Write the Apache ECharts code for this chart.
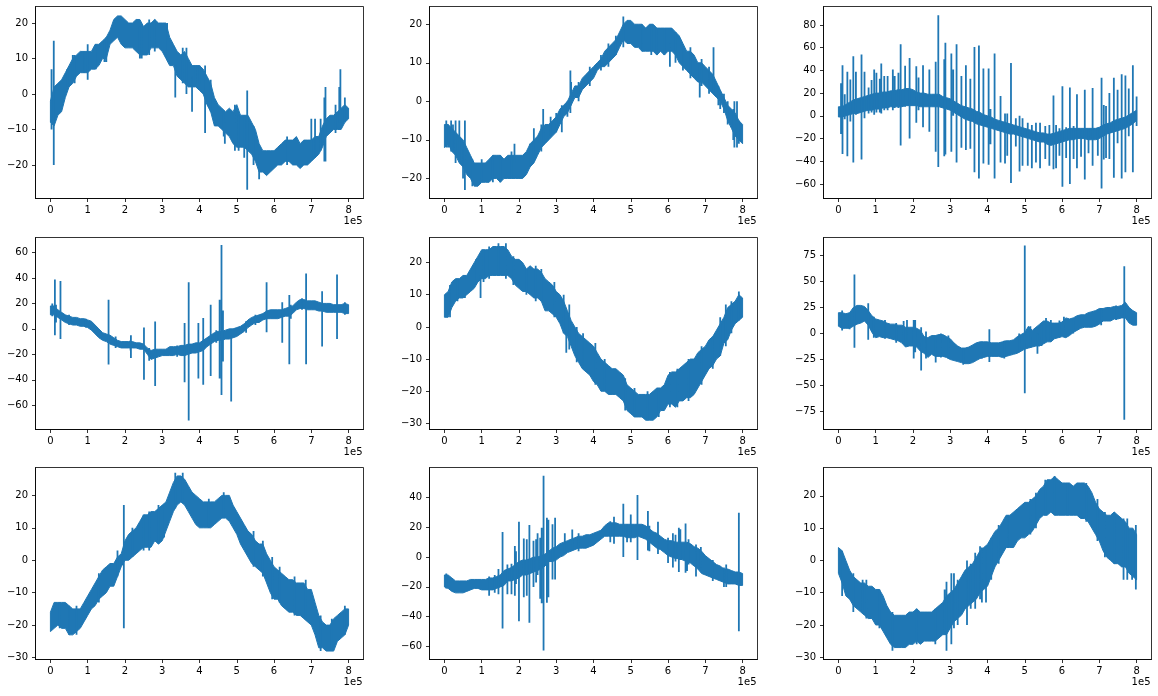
<!DOCTYPE html>
<html><head><meta charset="utf-8">
<style>html,body{margin:0;padding:0;background:#fff}#c{width:1158px;height:696px}</style>
<script src="https://cdn.jsdelivr.net/npm/echarts@6/dist/echarts.min.js"></script>
</head><body><div id="c"></div>
<script>
const sampleX=[0,.1,.2,.3,.4,.5,.6,.7,.8,.9,1,1.1,1.2,1.3,1.4,1.5,1.6,1.7,1.8,1.9,2,2.1,2.2,2.3,2.4,2.5,2.6,2.7,2.8,2.9,3,3.1,3.2,3.3,3.4,3.5,3.6,3.7,3.8,3.9,4,4.1,4.2,4.3,4.4,4.5,4.6,4.7,4.8,4.9,5,5.1,5.2,5.3,5.4,5.5,5.6,5.7,5.8,5.9,6,6.1,6.2,6.3,6.4,6.5,6.6,6.7,6.8,6.9,7,7.1,7.2,7.3,7.4,7.5,7.6,7.7,7.8,7.9,8];
const xTicks=[0,1,2,3,4,5,6,7,8];

const p1Hi=[-2,2,3,4,6,8,10,11,12,12,12,12,14,14,15,16,18,21,22,22,21,20,20,21,21,19,20,20,21,20,20,20,16,14,12,11,12,10,8,8,8,7,5,3,-1,-3,-4,-5,-4,-5,-3,-6,-6,-6,-8,-10,-14,-16,-16,-16,-16,-15,-14,-13,-13,-13,-12,-14,-13,-13,-13,-12,-12,-9,-7,-6,-6,-5,-4,-3,-4];
const p1Lo=[-8,-9,-6,-5,-1,2,3,5,6,6,6,7,7,8,10,10,14,15,16,14,13,13,13,12,11,11,11,13,13,13,12,10,8,8,5,4,3,2,2,2,1,0,-3,-5,-9,-9,-10,-11,-12,-14,-15,-15,-15,-16,-17,-19,-22,-22,-23,-22,-21,-20,-20,-19,-19,-20,-20,-21,-20,-20,-19,-18,-17,-15,-12,-11,-10,-10,-10,-8,-7];
const p1Spikes=[[.03,-10,7],[.09,-20,15],[1,4,14],[3.35,-1,8],[3.65,0,13],[3.8,-5,5],[4.15,-11,0],[4.68,-14,-8],[5.28,-27,1],[5.6,-24,-17],[7.35,-19,-1],[7.38,-19,2],[7.75,-8,2],[7.78,-8,7],[7,-18,-7],[4,3,8],[.45,2,7],[.6,5,11],[.65,3,11],[.9,6,12],[1.22,7,14],[1.45,9,15],[1.5,9,16],[2.4,10,19],[2.45,10,19],[2.65,11,21],[2.8,12,21],[3.13,10,20],[3.55,3,13],[3.9,3,8],[4.15,-1,8],[4.3,-5,4],[4.65,-12,-5],[4.95,-16,-3],[5.05,-16,-6],[5.2,-18,-6],[5.45,-20,-9],[6.35,-20,-12],[7.1,-18,-7],[7.25,-16,-7],[7.65,-11,-3],[7.9,-8,-1]];
const p1Ticks=[-20,-10,0,10,20];

const p2Hi=[-6,-6,-7,-8,-9,-10,-12,-14,-16,-16,-16,-16,-15,-14,-14,-14,-15,-14,-14,-14,-14,-14,-13,-11,-10,-9,-7,-6,-6,-5,-4,-2,-1,0,2,4,4,6,7,8,9,10,11,13,14,15,16,18,20,21,21,20,20,20,19,20,20,19,19,19,19,19,18,17,15,13,13,12,10,10,9,8,7,5,3,1,-1,-2,-3,-5,-6];
const p2Lo=[-12,-11,-13,-14,-16,-17,-19,-20,-22,-22,-21,-21,-21,-20,-20,-21,-20,-20,-20,-20,-20,-20,-19,-17,-16,-14,-12,-11,-10,-9,-8,-6,-4,-3,-1,1,1,3,4,5,6,8,9,9,10,11,12,14,16,15,15,14,14,13,13,13,13,12,13,12,13,13,12,10,9,8,7,6,5,5,4,3,2,1,0,-2,-5,-7,-9,-10,-11];
const p2Spikes=[[.05,-12,-5],[.18,-13,-5],[.23,-13,-6],[.3,-16,-5],[.4,-15,-5],[.55,-23,-5],[.5,-20,-12],[1.88,-16,-11],[2.4,-14,-7],[2.65,-10,-2],[2.85,-9,-4],[3.15,-8,-1],[3.38,-3,8],[3.4,-1,5],[4.8,14,22],[6.05,9,15],[6.4,8,14],[6.85,1,9],[7.22,2,14],[7.4,-2,2],[7.5,-3,2],[7.75,-10,-2],[7.78,-12,0],[7.85,-12,0],[7.9,-11,-5],[.1,-12,-6],[.75,-22,-15],[1,-21,-15],[1.3,-21,-14],[1.5,-21,-14],[1.8,-20,-13],[2.3,-17,-11],[2.6,-13,-6],[3,-8,-3],[3.3,-4,0],[3.6,0,5],[3.9,4,9],[4.2,8,12],[4.4,9,15],[4.6,12,17],[5.3,13,20],[5.55,12,20],[5.7,12,19],[5.9,12,19],[6.2,10,18],[6.6,6,14],[6.9,4,11],[7.1,2,9],[7.35,-1,4],[7.6,-6,0]];
const p2Ticks=[-20,-10,0,10,20];

const p3Hi=[8,8,10,12,14,15,16,17,18,19,20,20,21,21,22,22,23,23,24,24,23,21,20,20,19,19,19,19,17,16,15,13,11,9,8,7,6,4,3,1,0,-1,-3,-4,-5,-6,-7,-8,-9,-10,-11,-12,-13,-14,-15,-15,-16,-16,-15,-14,-13,-12,-11,-11,-11,-11,-11,-11,-11,-11,-10,-8,-7,-6,-4,-3,-2,-1,1,3,5];
const p3Lo=[-1,-1,0,1,2,2,3,4,5,5,6,6,7,7,8,8,8,8,9,9,9,9,8,8,8,8,8,8,7,6,5,3,1,-1,-3,-4,-5,-7,-8,-9,-10,-11,-12,-13,-14,-15,-16,-16,-17,-18,-19,-20,-21,-22,-23,-23,-25,-26,-25,-24,-23,-22,-21,-21,-20,-20,-20,-21,-21,-21,-20,-18,-16,-15,-14,-13,-12,-11,-9,-7,-4];
const p3Spikes=[[.07,-16,28.6],[.11,-33.5,44.6],[.17,-3,19],[.24,-35.6,38.8],[.32,-5,32],[.4,-41,52.5],[.47,1,38.8],[.62,-38.5,54],[.7,-2,38.8],[.81,2,25],[.89,3,31.5],[.96,1,40.8],[1.02,3,38],[1.11,3,32.6],[1.15,2,46],[1.23,5,35],[1.32,5,35],[1.46,5,40.8],[1.51,7,35],[1.61,7,38],[1.67,-26,63],[1.79,8,44],[1.91,-20,51],[2.09,-6,43.7],[2.15,5,33.8],[2.27,-10,44.6],[2.44,-14,40.8],[2.61,-31.5,47.5],[2.68,-45,88.6],[2.84,-35.6,49.8],[2.87,-34,64.4],[3.03,-31.5,54.8],[3.08,0,40.8],[3.17,-41,63],[3.3,-28,35],[3.42,-30,44.6],[3.54,-29,32.6],[3.65,-49.6,60.6],[3.77,-55,62],[3.89,-42,41.7],[4.03,-43,41.7],[4.08,-25,6],[4.19,-55,54.8],[4.35,-41,17.5],[4.47,-42,2],[4.53,-35,2],[4.63,-59,46.6],[4.76,-27,-2],[4.86,-49,0],[4.94,-44,-2],[5.08,-44,-6],[5.19,-46,-8],[5.3,-41,-6],[5.41,-46,-6],[5.55,-38,-9],[5.66,-44,-8],[5.77,-47,18],[5.84,-46,-8],[5.93,-35,-11],[6.01,-62.4,26],[6.11,-37,-10],[6.21,-60,25],[6.31,-38,-9],[6.4,-46,19],[6.51,-36,-12],[6.61,-56,23],[6.71,-33,-12],[6.82,-44,24.5],[6.96,-35,-11],[7.06,-64,33.5],[7.12,-38.5,9.6],[7.18,-37,8.7],[7.27,-38,20],[7.39,-54.5,33.5],[7.49,-24,23],[7.6,-55,36.7],[7.7,-49.6,35.6],[7.79,-18,24],[7.9,-49.6,44.6],[8,-9,17]];
const p3Ticks=[-60,-40,-20,0,20,40,60,80];

const p4Hi=[18,18,15,13,11,10,9,9,8,8,7,6,3,0,-3,-4,-5,-7,-9,-10,-10,-10,-10,-11,-11,-12,-15,-17,-16,-16,-16,-16,-14,-14,-14,-13,-13,-12,-12,-11,-11,-9,-7,-5,-3,-2,-2,-1,0,0,1,2,4,7,9,10,11,12,14,15,15,15,15,16,17,18,21,23,23,22,22,22,21,20,20,20,19,19,19,20,19];
const p4Lo=[11,11,9,7,5,4,3,3,2,2,1,-1,-4,-7,-9,-10,-12,-13,-14,-15,-15,-15,-15,-15,-16,-16,-20,-24,-23,-22,-21,-21,-21,-21,-20,-21,-21,-20,-19,-19,-18,-17,-14,-12,-10,-9,-9,-8,-8,-7,-6,-4,-2,1,3,5,5,7,8,8,8,8,9,10,10,12,15,16,16,15,15,15,14,14,13,13,13,13,13,12,12];
const p4Spikes=[[.12,-5,38.8],[.27,-8,37.7],[1.56,-28,22.8],[2.16,-23,-5],[2.51,-40,1],[2.81,-45,5.8],[3.6,-42,4.7],[3.71,-72,36.7],[3.97,-39,4.7],[4.1,-44,8.6],[4.3,-37,18.9],[4.54,-39,22.8],[4.59,-52,66],[4.63,-25.7,14.4],[4.85,-57,-5],[5.8,-2.6,36.7],[6.22,-11,21],[6.41,-27.8,26.7],[6.86,-27.8,43.5],[7.29,-13.9,29.6],[7.69,-8,42.7],[.05,10,20],[.15,5,19],[.5,3,11],[.95,1,8],[1.75,-15,-6],[2.15,-17,-9],[2.65,-25,-15],[3.4,-22,-13],[4.45,-11,-1],[5.25,-3,6],[5.5,3,11],[6.45,8,19],[6.75,15,24],[7.9,11,21]];
const p4Ticks=[-60,-40,-20,0,20,40,60];

const p5Hi=[10,11,14,15,15,16,16,18,20,22,24,24,24,25,25,25,25,24,22,21,21,20,18,19,18,18,17,15,14,13,11,10,8,5,2,0,-2,-3,-4,-5,-6,-8,-10,-11,-12,-13,-13,-14,-15,-18,-19,-20,-21,-21,-21,-21,-20,-19,-19,-18,-15,-14,-14,-13,-12,-11,-10,-10,-8,-7,-6,-4,-3,-1,1,3,6,7,8,10,9];
const p5Lo=[3,3,6,8,9,9,10,11,12,14,15,15,16,16,16,16,16,16,15,13,12,11,11,10,9,9,8,5,5,4,3,1,-2,-3,-6,-9,-11,-13,-14,-15,-17,-18,-20,-20,-21,-21,-21,-22,-23,-26,-27,-28,-28,-28,-29,-29,-29,-28,-26,-26,-24,-24,-25,-23,-23,-22,-22,-21,-19,-17,-15,-13,-12,-10,-9,-5,-4,-1,1,2,3];
const p5Spikes=[[.97,9,16],[3.27,-8,-1],[.15,3,13],[.35,8,15],[.55,9,16],[.85,13,21],[1.05,14,24],[1.2,15,25],[1.45,16,26],[1.65,15,26],[1.85,13,22],[2.2,10,18],[2.45,8,19],[2.6,8,18],[2.95,3,14],[3.2,-2,10],[3.35,-7,7],[3.55,-11,0],[3.72,-13,-2],[4.05,-18,-5],[4.3,-20,-10],[4.85,-26,-16],[5.1,-28,-19],[5.45,-29,-20],[5.75,-28,-19],[6.05,-25,-14],[6.25,-25,-13],[6.55,-23,-10],[6.9,-18,-6],[7.2,-13,-3],[7.4,-9,3],[7.55,-6,7],[7.7,-2,8],[7.9,2,11]];
const p5Ticks=[-30,-20,-10,0,10,20];

const p6Hi=[20,20,19,20,25,27,27,26,22,17,14,13,12,10,9,9,8,8,6,6,6,5,3,-3,-4,-2,-2,-1,-1,-3,-5,-9,-12,-14,-14,-13,-11,-9,-8,-8,-8,-9,-9,-9,-8,-7,-7,-6,-3,-1,1,7,3,6,9,12,12,10,10,10,11,15,14,15,17,18,18,20,21,22,24,24,25,25,26,26,27,30,25,22,20];
const p6Lo=[7,5,5,5,7,9,10,12,8,1,-4,-3,-4,-4,-5,-6,-7,-9,-13,-12,-12,-13,-17,-19,-23,-20,-22,-22,-22,-23,-25,-26,-27,-28,-29,-29,-28,-26,-24,-23,-22,-22,-22,-22,-23,-22,-21,-20,-19,-17,-15,-14,-13,-12,-12,-10,-8,-8,-5,-4,-3,-4,-2,1,3,5,6,6,6,7,9,12,12,12,14,14,15,15,10,8,8];
const p6Spikes=[[.43,-13.8,56.7],[.8,-6,29],[1.84,-12,13],[2.02,-24,13],[2.06,-18,13],[2.22,-35.6,6],[2.61,-28,-2],[4.05,-27.5,4],[5,-57.4,84.6],[7.67,-83,64.7],[5.34,-19.5,0],[5.57,-8,15],[5.7,-8,13],[5.93,-4,12.5],[.1,3,22],[.3,4,20],[.95,-4,16],[1.25,-5,13],[1.55,-9,10],[1.75,-10,12],[2.35,-24,2],[2.75,-23,0],[2.95,-24,-2],[3.35,-30,-14],[3.85,-24,-8],[4.45,-24,-7],[4.85,-18,0],[5.15,-14,7],[5.45,-12,8],[6.05,-3,16],[6.3,0,15],[7.05,8,24],[7.45,13,27]];
const p6Ticks=[-75,-50,-25,0,25,50,75];

const p7Hi=[-16,-13,-13,-13,-13,-14,-15,-15,-15,-13,-11,-9,-7,-5,-3,-2,-1,-1,1,2,6,8,9,10,12,14,14,15,15,16,17,18,21,24,26,26,25,23,21,20,19,18,18,18,18,19,20,20,20,17,15,13,11,9,8,6,5,5,2,0,-2,-3,-4,-5,-6,-6,-7,-7,-7,-9,-9,-13,-17,-19,-20,-20,-18,-17,-16,-15,-15];
const p7Lo=[-22,-21,-20,-21,-21,-23,-23,-22,-21,-19,-17,-15,-14,-12,-11,-10,-8,-8,-5,-2,0,0,1,2,3,4,4,4,6,5,6,9,12,15,17,18,17,15,13,11,10,10,10,10,11,12,13,13,12,10,8,5,3,1,-1,-2,-3,-4,-7,-10,-12,-12,-14,-15,-16,-16,-17,-17,-18,-19,-20,-23,-27,-27,-28,-28,-28,-25,-24,-23,-20];
const p7Spikes=[[1.97,-21,17],[.25,-21,-13],[.5,-23,-14],[.7,-23,-14],[1.3,-13,-4],[1.8,-5,3],[2.2,1,10],[2.5,3,14],[2.65,3,15],[2.9,5,17],[3.05,7,17],[3.35,16,27],[3.55,18,27],[4.25,10,19],[4.65,13,21],[5.45,-2,9],[5.7,-5,6],[5.95,-12,1],[6.15,-13,-2],[6.55,-17,-5],[6.85,-18,-6],[7.25,-28,-17],[7.55,-28,-18],[7.9,-23,-14]];
const p7Ticks=[-30,-20,-10,0,10,20];

const p8Hi=[-12,-12,-14,-16,-16,-16,-16,-15,-15,-15,-15,-15,-14,-14,-13,-12,-9,-8,-7,-5,-3,-2,-2,-1,0,0,1,2,4,6,7,9,10,11,12,13,14,14,15,15,16,17,18,21,23,23,23,22,22,22,22,22,22,22,21,19,17,16,14,12,11,11,10,10,10,10,9,7,6,4,1,-1,-3,-5,-6,-8,-8,-9,-10,-10,-11];
const p8Lo=[-20,-21,-23,-24,-24,-24,-23,-22,-21,-21,-22,-22,-22,-22,-21,-20,-19,-16,-16,-15,-14,-12,-12,-11,-10,-9,-8,-6,-3,-3,-2,0,1,3,4,5,6,6,6,7,8,10,12,14,14,14,14,14,14,13,13,13,14,13,12,10,8,6,5,3,1,0,-1,-1,-2,-3,-4,-6,-8,-11,-12,-13,-14,-15,-16,-17,-18,-18,-18,-19,-19];
const p8Spikes=[[1.56,-47.9,16.8],[1.45,-25,-8],[1.69,-25,-5],[1.8,-25,-4.5],[1.89,-26,7.4],[1.92,-18,4],[2,-43,23.7],[2.13,-27,12.5],[2.21,-26,12],[2.28,-44,21.5],[2.39,-20,11],[2.46,-17,12],[2.5,-12,16],[2.57,-28,13],[2.61,-31,19.7],[2.66,-62.6,54.6],[2.75,-30.6,26.4],[2.79,-27,25],[2.9,-15,22],[2.97,-15,26.4],[3.23,3,16],[3.43,5,18.5],[4.55,9,27],[4.8,0,35.8],[5,10,28.6],[5.18,-2,41.6],[5.46,4.5,31],[5.73,2,23.7],[6.13,-7,16],[6.29,-10,19.7],[6.33,-2,18.6],[6.47,-10.5,22.6],[6.51,-9.4,5],[6.75,-13,8.5],[6.88,-7,6.7],[7.9,-49.7,29.8],[7.56,-20,-5],[.05,-21,-11],[1.2,-26,-13],[1.35,-24,-12],[3.6,4,16],[4.45,10,24],[4.9,10,22],[5.5,4,21],[6,-4,13],[6.2,-3,15],[6.55,-5,12],[7.2,-16,-2],[7.5,-20,-7]];
const p8Ticks=[-60,-40,-20,0,20,40];

const p9Hi=[4,3,0,-3,-5,-6,-7,-7,-8,-8,-9,-9,-11,-14,-16,-17,-17,-17,-17,-16,-16,-15,-16,-16,-16,-16,-15,-14,-13,-11,-10,-9,-7,-5,-3,-2,-1,1,3,4,5,7,9,10,12,14,14,15,16,17,18,18,19,20,22,23,25,25,26,25,24,24,24,23,24,24,24,23,21,18,16,15,14,14,15,14,13,12,10,10,8];
const p9Lo=[-4,-7,-11,-12,-14,-15,-16,-17,-18,-18,-20,-20,-22,-24,-26,-27,-27,-27,-27,-26,-26,-25,-26,-25,-25,-25,-25,-24,-23,-23,-21,-19,-18,-17,-15,-14,-13,-12,-10,-9,-8,-5,-2,0,2,4,4,4,6,7,7,8,9,11,13,14,14,15,14,14,14,14,14,14,14,13,13,12,10,8,6,3,1,0,-1,-1,-2,-2,-4,-5,-6];
const p9Spikes=[[2.9,-28,-6.6],[3.03,-26,-4],[3.1,-21,-4],[3.45,-20,0],[3.67,-15,2.4],[3.8,-12,4.4],[3.96,-13,4],[7.88,-6,6],[7.98,-9,11],[.1,-11,3],[.4,-16,-4],[.65,-16,-6],[.75,-18,-6],[1.1,-21,-9],[1.45,-28,-16],[2.1,-26,-15],[2.6,-26,-15],[2.85,-22,-9],[3.2,-20,-6],[3.55,-15,-1],[3.85,-13,4],[4.1,-6,7],[4.3,-1,11],[4.55,4,14],[5.15,8,19],[5.3,10,21],[5.55,14,25],[5.8,14,26.2],[6.15,14,24],[6.65,12,24],[6.95,6,19],[7.15,1,15],[7.4,-1,15],[7.65,-6,13],[7.75,-6,13]];
const p9Ticks=[-30,-20,-10,0,10,20];

const panels=[
 {hi:p1Hi,lo:p1Lo,spikes:p1Spikes,ticks:p1Ticks,yr:[-29.46,24.66]},
 {hi:p2Hi,lo:p2Lo,spikes:p2Spikes,ticks:p2Ticks,yr:[-25.2,24.6]},
 {hi:p3Hi,lo:p3Lo,spikes:p3Spikes,ticks:p3Ticks,yr:[-72.7,96.2]},
 {hi:p4Hi,lo:p4Lo,spikes:p4Spikes,ticks:p4Ticks,yr:[-79.1,71.8]},
 {hi:p5Hi,lo:p5Lo,spikes:p5Spikes,ticks:p5Ticks,yr:[-31.9,27.8]},
 {hi:p6Hi,lo:p6Lo,spikes:p6Spikes,ticks:p6Ticks,yr:[-92.3,92.3]},
 {hi:p7Hi,lo:p7Lo,spikes:p7Spikes,ticks:p7Ticks,yr:[-30.6,28.6]},
 {hi:p8Hi,lo:p8Lo,spikes:p8Spikes,ticks:p8Ticks,yr:[-68.7,60.1]},
 {hi:p9Hi,lo:p9Lo,spikes:p9Spikes,ticks:p9Ticks,yr:[-30.7,28.8]}
];
const BLUE='#1f77b4',FONT='"DejaVu Sans"';
const lefts=[35.5,429.5,823.5],tops=[6.5,237.5,467.5],W=328,H=192;
const grid=[],xAxis=[],yAxis=[],series=[],graphic=[];
const axisCommon={
 axisLine:{show:true,onZero:false,lineStyle:{color:'#000',width:.8}},
 axisTick:{show:true,length:3.5,lineStyle:{color:'#000',width:.8}},
 splitLine:{show:false}
};
panels.forEach((p,i)=>{
 const L=lefts[i%3],T=tops[Math.floor(i/3)];
 grid.push({left:L,top:T,width:W,height:H,show:true,borderColor:'#000',borderWidth:.8,backgroundColor:'#fff',containLabel:false});
 xAxis.push({gridIndex:i,type:'value',min:-.4,max:8.4,...axisCommon,
  axisTick:{...axisCommon.axisTick,customValues:xTicks},
  axisLabel:{customValues:xTicks,color:'#000',fontFamily:FONT,fontSize:10,margin:7,showMinLabel:true,showMaxLabel:true,formatter:v=>String(v)}});
 yAxis.push({gridIndex:i,type:'value',min:p.yr[0],max:p.yr[1],...axisCommon,
  axisTick:{...axisCommon.axisTick,customValues:p.ticks},
  axisLabel:{customValues:p.ticks,color:'#000',fontFamily:FONT,fontSize:10,margin:7.5,formatter:v=>String(v).replace('-','\u2212')}});
 const band=sampleX.map((x,k)=>[x,p.lo[k],p.hi[k]]);
 series.push({type:'custom',xAxisIndex:i,yAxisIndex:i,silent:true,clip:true,data:band,
  encode:{x:0,y:[1,2]},
  renderItem:(params,api)=>{
   if(params.dataIndex!==0) return null;
   const top=band.map(d=>api.coord([d[0],d[2]]));
   const bot=band.map(d=>api.coord([d[0],d[1]])).reverse();
   return {type:'polygon',shape:{points:top.concat(bot)},style:{fill:BLUE,stroke:BLUE,lineWidth:1,lineJoin:'bevel'}};
  }});
 const line=[];
 p.spikes.forEach(s=>{line.push([s[0],s[1]],[s[0],s[2]],[s[0],null]);});
 series.push({type:'line',xAxisIndex:i,yAxisIndex:i,silent:true,data:line,showSymbol:false,symbol:'none',connectNulls:false,lineStyle:{color:BLUE,width:1.8,cap:'butt'}});
 graphic.push({type:'text',x:L+W-1,y:T+H+18,style:{text:'1e5',fill:'#000',font:'10px '+FONT,textAlign:'right',textVerticalAlign:'top'}});
});
const chart=echarts.init(document.getElementById('c'),null,{renderer:'canvas'});
chart.setOption({animation:false,backgroundColor:'#fff',grid,xAxis,yAxis,series,graphic});
</script></body></html>
